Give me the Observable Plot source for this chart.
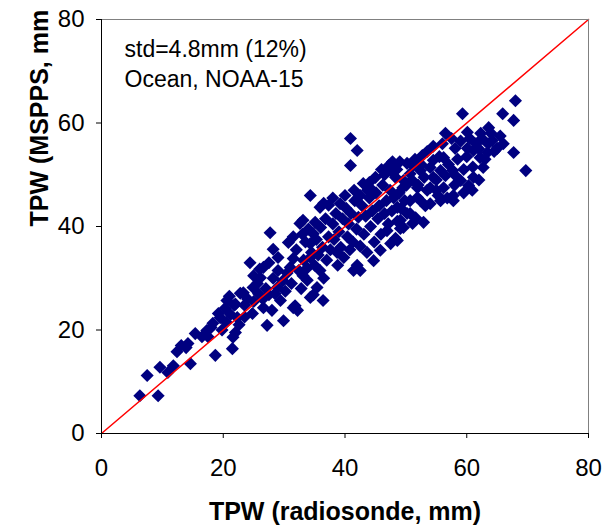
<!DOCTYPE html>
<html><head><meta charset="utf-8">
<script src="https://cdn.jsdelivr.net/npm/d3@7"></script>
<script src="https://cdn.jsdelivr.net/npm/@observablehq/plot@0.6"></script>
<style>html,body{margin:0;padding:0;background:#fff}svg{display:block}</style>
</head><body><div id="chart"></div>
<script>
// TPW from radiosonde (x) and from MSPPS retrieval (y), mm
const radiosonde = [
  6.3, 9.3, 7.5, 9.6, 10.9, 11.8, 12.4, 13.1, 13.9, 14.6, 14.2, 15.4, 16.5, 17.5, 18.7, 18.3, 19.2, 20.3, 20.6, 21.6, 21.5, 22.3, 22.0, 19.5, 17.3,
  18.0, 19.8, 20.5, 21.2, 21.8, 22.6, 23.5,
  27.7, 28.2, 24.4, 26.6, 30.7, 32.6, 35.1, 32.2, 29.9, 27.2, 22.8, 24.9, 26.1, 28.9, 29.4, 34.3, 33.1, 31.0, 34.3, 34.8, 24.8, 26.6, 28.0, 35.4, 31.5, 23.3, 25.6,
  34.3, 43.0, 43.7, 40.9, 47.5, 37.3, 39.2, 35.9, 33.1, 34.3, 38.7, 42.0, 42.5, 41.4, 35.9, 34.8, 33.8, 45.8, 44.7, 47.5, 48.6, 46.9, 49.1, 50.7, 51.9, 36.4, 31.8, 47.2, 51.2, 40.9, 42.0,
  68.0, 59.3, 65.9, 67.7, 63.6, 56.5, 60.1, 62.3, 64.2, 65.0, 67.7, 69.7, 63.4, 52.7, 54.5, 56.2, 58.1, 60.1, 61.1, 62.2, 62.7, 61.1, 60.3, 60.9, 57.8, 55.3, 56.2, 59.0, 57.7, 55.7, 54.0, 52.4, 50.7, 50.2, 49.6, 51.9, 53.5, 54.5, 50.7, 52.4, 54.0, 50.2, 51.6, 52.9, 49.6, 55.7, 57.8, 48.6, 51.1, 49.1, 48.3,
  21.0, 22.0, 23.5, 24.0, 25.0, 25.8, 26.5, 27.0, 27.5, 28.2, 28.5, 29.0, 29.8, 30.2, 30.5, 25.0, 26.0, 27.5, 29.0,
  31.2, 31.5, 32.0, 32.4, 32.8, 33.2, 33.5, 33.8, 34.0, 34.5, 35.0, 35.3, 35.6, 36.0, 36.3, 36.5, 36.8, 37.0, 37.3, 37.6, 38.0, 38.2, 38.5, 38.8, 39.0, 39.3, 39.6, 39.8,
  36.5, 38.0, 40.0, 41.5, 42.5, 31.5, 33.0,
  40.2, 40.4, 40.6, 40.8, 41.0, 41.3, 41.6, 41.9, 42.2, 42.5, 42.8, 43.1, 43.4, 43.6, 44.0, 44.2, 44.5, 44.8, 45.1, 45.4, 45.6, 45.9, 46.2, 46.5, 46.8, 47.1, 47.4, 47.7, 48.0, 48.3, 48.6, 48.9, 49.2, 49.5, 49.8, 50.1,
  51.0, 51.5, 52.0, 52.5, 53.0, 53.5, 54.0, 54.5, 55.0, 55.5, 56.0, 56.5, 57.0, 57.5, 58.0, 58.5, 59.0, 59.5, 60.0, 60.5, 61.0, 61.5, 62.0, 62.5, 63.0, 63.5, 64.0, 64.5, 65.5, 66.0, 58.0, 59.5, 56.8, 55.0, 53.2, 62.0,
  44.0, 45.0, 46.0, 46.5, 47.8, 48.5, 49.0, 44.5
];
const mspps = [
  7.3, 7.3, 11.2, 12.8, 11.8, 13.1, 15.8, 17.0, 16.6, 13.5, 17.4, 19.3, 18.7, 18.7, 15.1, 21.3, 23.2, 24.2, 25.7, 18.6, 16.4, 22.4, 19.5, 22.4, 19.9,
  20.5, 20.0, 21.5, 23.0, 24.8, 21.0, 22.5,
  38.8, 35.6, 33.0, 32.1, 36.9, 40.6, 40.8, 23.8, 21.8, 20.9, 27.1, 28.2, 30.1, 28.2, 25.7, 26.3, 30.5, 32.1, 34.0, 38.6, 23.2, 24.3, 23.8, 28.2, 24.3, 27.2, 29.0,
  46.0, 48.3, 47.0, 51.8, 50.8, 44.1, 44.4, 43.7, 41.2, 36.7, 35.0, 32.5, 31.5, 31.5, 31.5, 26.8, 29.6, 35.4, 33.4, 36.7, 37.3, 39.2, 41.2, 42.5, 45.6, 25.7, 24.7, 51.8, 51.8, 57.0, 54.7,
  64.3, 61.8, 61.8, 60.5, 59.1, 58.0, 58.2, 58.0, 56.6, 55.1, 54.3, 50.8, 54.3, 53.7, 52.8, 53.3, 55.1, 55.1, 54.7, 53.3, 51.4, 49.5, 47.9, 47.0, 46.0, 46.0, 47.5, 48.9, 50.8, 50.8, 51.4, 50.8, 50.2, 52.2, 48.9, 47.5, 47.0, 49.5, 45.0, 45.0, 44.4, 42.5, 41.7, 40.8, 39.8, 45.0, 45.0, 43.7, 40.6, 39.6, 37.7,
  26.5, 25.0, 24.8, 26.0, 25.5, 27.0, 26.0, 28.0, 26.8, 30.0, 27.0, 31.5, 29.5, 27.5, 31.0, 30.5, 31.8, 33.0, 34.0,
  29.0, 33.8, 35.5, 31.5, 28.0, 33.5, 37.0, 32.0, 39.5, 35.0, 32.5, 37.5, 34.5, 39.8, 36.0, 30.0, 41.5, 33.5, 38.0, 35.5, 40.5, 37.5, 42.5, 32.5, 39.0, 36.0, 41.5, 34.0,
  44.5, 45.5, 46.0, 47.0, 46.0, 38.0, 38.5,
  43.5, 38.0, 40.5, 35.5, 42.5, 37.0, 45.0, 39.5, 41.8, 36.2, 44.0, 38.5, 42.0, 35.0, 45.5, 40.0, 43.0, 37.0, 46.5, 41.5, 44.0, 38.5, 48.0, 42.5, 45.0, 40.5, 47.0, 43.0, 45.5, 49.5, 41.0, 46.5, 43.5, 47.5, 45.0, 48.0,
  49.0, 53.0, 48.0, 52.0, 49.5, 54.5, 47.5, 55.5, 49.0, 53.5, 56.0, 49.8, 52.0, 57.0, 48.0, 53.0, 56.5, 51.0, 53.5, 57.0, 51.5, 56.0, 55.0, 57.0, 53.0, 56.0, 58.0, 54.5, 57.5, 56.0, 50.0, 46.5, 45.5, 47.0, 44.0, 49.0,
  48.5, 49.5, 51.0, 50.0, 52.5, 51.0, 52.5, 47.0
];
const axisTicks = [0, 20, 40, 60, 80];
const oneToOne = [0, 80];
const xTitle = "TPW (radiosonde, mm)";
const yTitle = "TPW (MSPPS, mm";
const noteLines = ["std=4.8mm (12%)", "Ocean, NOAA-15"];

const points = radiosonde.map((x, i) => ({x, y: mspps[i]}));

const chart = Plot.plot({
  width: 604,
  height: 529,
  marginLeft: 101,
  marginRight: 16,
  marginTop: 19,
  marginBottom: 96,
  style: {fontFamily: "'Liberation Sans', Arial, sans-serif", background: "#fff", color: "#000"},
  x: {domain: [0, 80]},
  y: {domain: [0, 80]},
  marks: [
    Plot.dot(points, {x: "x", y: "y", symbol: "diamond2", r: 5.9, fill: "#000080", stroke: "none"}),
    Plot.line(oneToOne, {x: d => d, y: d => d, stroke: "#ff0000", strokeWidth: 1.5}),
    Plot.ruleX([80], {stroke: "#808080", strokeWidth: 1}),
    Plot.ruleY([80], {stroke: "#808080", strokeWidth: 1}),
    Plot.ruleX([0], {stroke: "#000", strokeWidth: 1}),
    Plot.ruleY([0], {stroke: "#000", strokeWidth: 1}),
    Plot.axisX({ticks: axisTicks, tickSize: 5, tickPadding: 20, fontSize: 24, label: null}),
    Plot.axisY({ticks: axisTicks, tickSize: 5, tickPadding: 12, fontSize: 24, label: null}),
    Plot.text([xTitle], {text: d => d, frameAnchor: "bottom", dy: 86, fontSize: 25, fontWeight: "bold"}),
    Plot.text([yTitle], {text: d => d, frameAnchor: "left", dx: -62, rotate: -90, fontSize: 25, fontWeight: "bold"}),
    Plot.text([noteLines[0]], {text: d => d, frameAnchor: "top-left", dx: 23, dy: 21, textAnchor: "start", fontSize: 23}),
    Plot.text([noteLines[1]], {text: d => d, frameAnchor: "top-left", dx: 23, dy: 51, textAnchor: "start", fontSize: 23})
  ]
});
document.getElementById("chart").appendChild(chart);
</script>
</body></html>
